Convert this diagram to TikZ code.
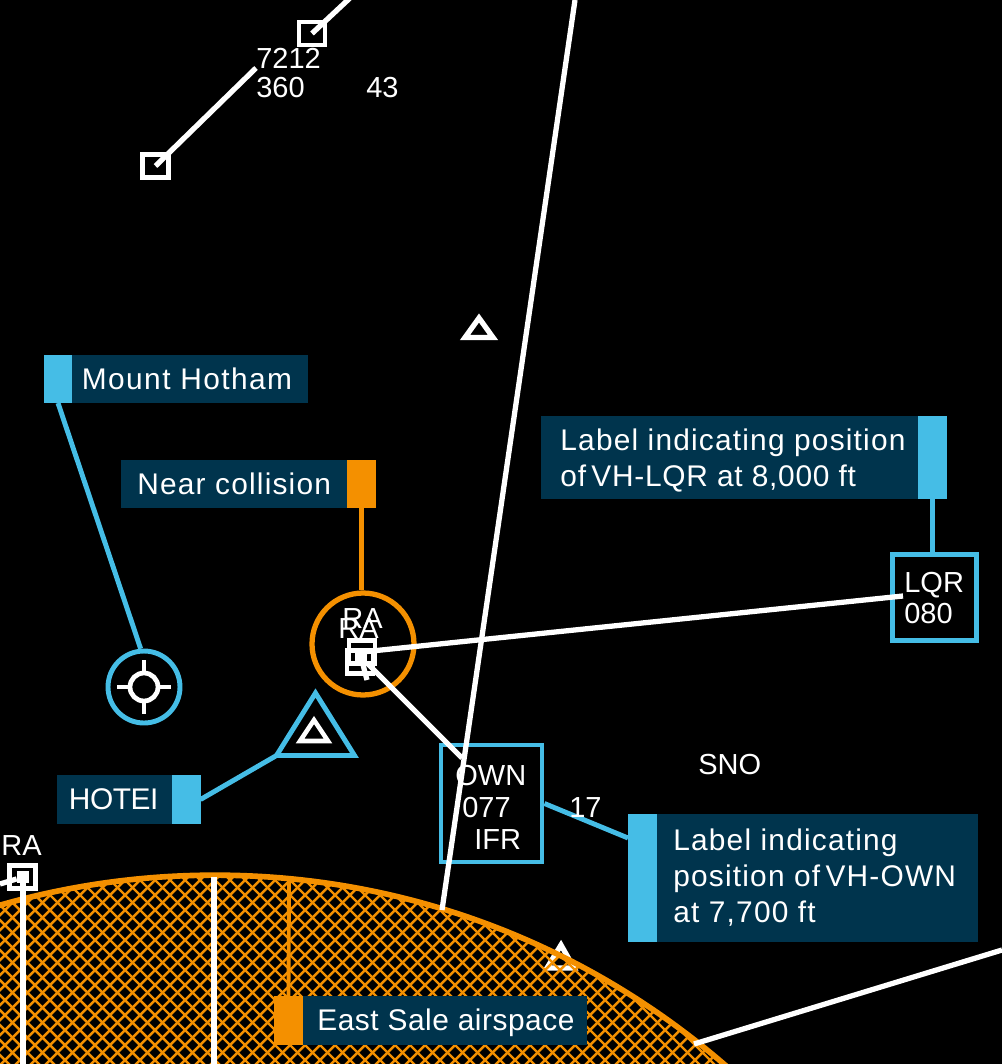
\documentclass[tikz,border=0pt]{standalone}
\usepackage{fontspec}
\usepackage{xcolor}
\usetikzlibrary{positioning}
\setmainfont{Liberation Sans}
\definecolor{navy}{HTML}{00344D}
\definecolor{sky}{HTML}{45BDE6}
\definecolor{amber}{HTML}{F49000}

\begin{document}
\begin{tikzpicture}[
        x=0.02cm, y=-0.02cm,
        track/.style={draw=white, line width=3pt},
        link/.style={draw=sky, line width=2.8pt},
        hatchline/.style={draw=amber, line width=1.4pt},
        tab/.style={rectangle, fill=sky, inner sep=0pt, outer sep=0pt, minimum width=0.58cm},
        panel/.style={rectangle, fill=navy, inner sep=0pt, outer sep=0pt},
        paneltext/.style={text=white, inner sep=0pt, align=left, font=\fontsize{17}{20.5}\selectfont\addfontfeature{LetterSpace=#1}},
        paneltext/.default=4,
        chart/.style={text=white, inner sep=0pt, anchor=base west, font=\fontsize{16.5}{18}\selectfont},
        sqmark/.style={rectangle, draw=white, line width=2.8pt, fill=none, minimum width=0.52cm, minimum height=0.46cm, inner sep=0pt},
        blip/.style={rectangle, fill=white, minimum size=0.24cm, inner sep=0pt},
        tagbox/.style={rectangle, draw=sky, line width=2.8pt, inner sep=0pt}
    ]
        \useasboundingbox[fill=black] (0,0) rectangle (1002,1064);

        % Beacons under the airspace
        \draw[track, line join=miter] (479,318) -- (493,337.5) -- (465,337.5) -- cycle;
        \draw[track, line join=miter] (561,945) -- (574,968) -- (547,968) -- cycle;

        % East Sale airspace
        \begin{scope}
            \clip (215,1655) circle [radius=15.6cm];
            \foreach \c in {-1100,-1085,...,1100} {
                \draw[hatchline] (\c,0) -- (\c+1100,1100);
                \draw[hatchline] (\c+1100,0) -- (\c,1100);
            }
        \end{scope}
        \draw[amber, line width=3.2pt] (215,1655) circle [radius=15.6cm];

        % Tracks
        \node[sqmark] (trkA) at (155.5,166) {};
        \node[sqmark] (trkB) at (312,33.5) {};
        \coordinate (trkAend) at (256,68);
        \coordinate (trkBend) at (350,-2);
        \draw[track] (trkA.center) -- (trkAend);
        \draw[track] (trkB.center) -- (trkBend);
        \coordinate (airN) at (575,0);
        \coordinate (airS) at (442,910);
        \coordinate (airE) at (1002,950);
        \coordinate (airW) at (694,1044);
        \coordinate (midtop) at (214,877);
        \coordinate (midend) at (214,1064);

        % Labels with their tabs
        \node[tab, minimum height=0.96cm] (hothamtab) at (58,379) {};
        \node[panel, minimum width=4.72cm, minimum height=0.96cm, right=0pt of hothamtab] (hotham) {};
        \node[paneltext=4.8, right=0.18cm of hotham.west, anchor=west] (hothamtxt) {Mount Hotham};

        \node[tab, fill=amber, minimum height=0.96cm] (neartab) at (361.5,484) {};
        \node[panel, minimum width=4.52cm, minimum height=0.96cm, left=0pt of neartab] (near) {};
        \node[paneltext, right=0.32cm of near.west, anchor=west] (neartxt) {Near collision};

        \node[tab, minimum height=1.66cm] (lqrtab) at (932.5,457.5) {};
        \node[panel, minimum width=7.54cm, minimum height=1.66cm, left=0pt of lqrtab] (lqrpanel) {};
        \node[paneltext, right=0.38cm of lqrpanel.west, anchor=west, yshift=-0.06cm] (lqrtxt) {Label indicating position\\{\addfontfeature{LetterSpace=2.5}of\hspace{.18em}VH-LQR at 8,000 ft}};

        \node[tab, minimum height=0.98cm] (hoteitab) at (186,799.5) {};
        \node[panel, minimum width=2.3cm, minimum height=0.98cm, left=0pt of hoteitab] (hotei) {};
        \node[paneltext=-1.5, right=0.24cm of hotei.west, anchor=west] (hoteitxt) {HOTEI};

        \node[tab, minimum height=2.56cm] (owntab) at (642.5,878) {};
        \node[panel, minimum width=6.42cm, minimum height=2.56cm, right=0pt of owntab] (ownpanel) {};
        \node[paneltext, right=0.32cm of ownpanel.west, anchor=west] (owntxt) {Label indicating\\position of\hspace{.18em}VH-OWN\\at 7,700 ft};

        \node[tab, fill=amber, minimum height=0.98cm] (easttab) at (288.5,1020.5) {};
        \node[panel, minimum width=5.68cm, minimum height=0.98cm, right=0pt of easttab] (east) {};
        \node[paneltext=1.8, right=0.28cm of east.west, anchor=west, yshift=-0.04cm] (easttxt) {East Sale airspace};

        % Rings and tag boxes
        \node[circle, draw=sky, line width=2.8pt, minimum size=1.44cm, inner sep=0pt] (hothamring) at (144,687) {};
        \node[circle, draw=amber, line width=3pt, minimum size=2.04cm, inner sep=0pt] (nearring) at (363,644) {};
        \node[tagbox, minimum width=1.68cm, minimum height=1.72cm] (lqrbox) at (934.7,597.7) {};
        \node[tagbox, minimum width=2.02cm, minimum height=2.34cm] (ownbox) at (491.5,803.5) {};

        % Hotham aid
        \node[circle, draw=white, line width=2.7pt, minimum size=0.56cm, inner sep=0pt] (aid) at (144,687) {};
        \draw[white, line width=2.7pt] (aid.north) -- ++(0,-11);
        \draw[white, line width=2.7pt] (aid.south) -- ++(0,11);
        \draw[white, line width=2.7pt] (aid.east) -- ++(11,0);
        \draw[white, line width=2.7pt] (aid.west) -- ++(-11,0);

        % Hotei triangle
        \coordinate (triL) at (276.5,755.5);
        \coordinate (triR) at (354.5,755.5);
        \coordinate (triT) at (315.5,693);
        \draw[sky, line width=2.8pt, line join=miter] (triT) -- (triR) -- (triL) -- cycle;
        \draw[white, line width=2.6pt, line join=miter] (314,720) -- (328,741) -- (300,741) -- cycle;

        % Aircraft
        \node[sqmark] (ownA) at (360,662) {};
        \node[sqmark] (lqrA) at (362,652) {};
        \node[blip] (ownB) at (361,657) {};
        \node[sqmark] (sqRA) at (22.5,877) {};
        \node[blip] (blipRA) at (23,877) {};
        \coordinate (lqrend) at (903,596);
        \coordinate (ownend) at (462,758);
        \coordinate (ownstub) at (367,680);
        \coordinate (raW) at (0,884);
        \coordinate (raS) at (23,1064);
        \draw[track] (ownB) -- (ownend);
        \draw[track] (ownB) -- (ownstub);
        \draw[track] (lqrA.center) -- (lqrend);
        \draw[track] (raW) -- (blipRA);
        \draw[track] (blipRA) -- (raS);
        \draw[track] (midtop) -- (midend);
        \draw[track] (airN) -- (airS);
        \draw[track] (airW) -- (airE);

        % Connections
        \coordinate (ownlink) at (628,838);
        \coordinate (airlink) at (289,880);
        \draw[link] (hothamtab.south) -- (hothamring.95);
        \draw[link] (hoteitab.east) -- (triL);
        \draw[link] (lqrtab.south) -- (lqrtab.south |- lqrbox.north);
        \draw[link] (ownbox.east) -- (ownlink);
        \draw[amber, line width=2.8pt] (neartab.south) -- (neartab.south |- nearring.north);
        \draw[amber, line width=2.2pt] (easttab.north) -- (airlink);

        % Chart text
        \node[chart] (t7212) at (256,69) {7212};
        \node[chart] (t360) at (256,98) {360};
        \node[chart] (t43) at (366,98) {43};
        \node[chart] (tRAa) at (342,628) {RA};
        \node[chart] (tRAb) at (338,638) {RA};
        \node[chart] (tRAc) at (1,855) {RA};
        \node[chart] (tLQR) at (904,592) {LQR};
        \node[chart] (t080) at (904,623) {080};
        \node[chart] (tSNO) at (698,774) {SNO};
        \node[chart] (tOWN) at (455,785) {OWN};
        \node[chart] (t077) at (462,817) {077};
        \node[chart] (tIFR) at (474,849) {IFR};
        \node[chart] (t17) at (569,817) {17};
    \end{tikzpicture}
\end{document}
